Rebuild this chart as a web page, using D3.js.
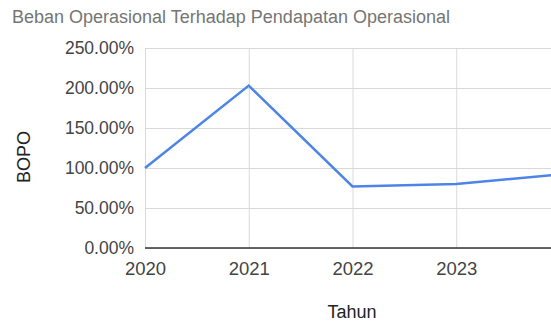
<!DOCTYPE html>
<html><head><meta charset="utf-8">
<script src="https://cdn.jsdelivr.net/npm/d3@7"></script>
<style>body{margin:0;background:#fff;overflow:hidden}svg{display:block;font-family:"Liberation Sans",Arial,sans-serif}</style>
</head><body>
<script>
const years = [2020, 2021, 2022, 2023, 2024];
const bopo = [100.0, 203.0, 77.0, 80.0, 92.0];
const yTicks = [0, 50, 100, 150, 200, 250];
const xTicks = [2020, 2021, 2022, 2023];
const title = "Beban Operasional Terhadap Pendapatan Operasional";
const xTitle = "Tahun", yTitle = "BOPO";

const W = 551, H = 325;
const FF = "Liberation Sans, Arial, sans-serif";
const svg = d3.select("body").append("svg").attr("width", W).attr("height", H);
const x = d3.scaleLinear().domain([2020, 2024]).range([145, 560]);
const y = d3.scaleLinear().domain([0, 250]).range([248, 48]);

svg.append("text").attr("x", 12).attr("y", 23).attr("fill", "#757575")
  .attr("font-size", 18).text(title);

const yAxis = d3.axisLeft(y).tickValues(yTicks).tickSize(-(W - 145))
  .tickFormat(d => d.toFixed(2) + "%");
const gy = svg.append("g").attr("transform", "translate(145,0)").call(yAxis);
gy.select(".domain").remove();
gy.selectAll(".tick line").attr("stroke", "#d9d9d9");
gy.selectAll(".tick text").attr("x", -11).attr("dy", "0.33em").attr("fill", "#444")
  .attr("font-size", 17.5).attr("font-family", FF);

const xAxis = d3.axisBottom(x).tickValues(xTicks).tickSize(-(248 - 48)).tickFormat(d3.format("d"));
const gx = svg.append("g").attr("transform", "translate(0,248)").call(xAxis);
gx.select(".domain").remove();
gx.selectAll(".tick line").attr("stroke", "#d9d9d9");
gx.selectAll(".tick text").attr("y", 27).attr("dy", "0").attr("fill", "#444")
  .attr("font-size", 18.5).attr("font-family", FF);

svg.append("line").attr("x1", 145).attr("x2", W).attr("y1", y(0)).attr("y2", y(0))
  .attr("stroke", "#333").attr("stroke-width", 1.5);

const line = d3.line().x((d, i) => x(years[i])).y(d => y(d));
svg.append("path").datum(bopo).attr("d", line).attr("fill", "none")
  .attr("stroke", "#4d84e8").attr("stroke-width", 2.5);

svg.append("text").attr("x", 352).attr("y", 318).attr("text-anchor", "middle")
  .attr("fill", "#222").attr("font-size", 18).text(xTitle);
svg.append("text").attr("transform", "translate(30,157) rotate(-90)").attr("text-anchor", "middle")
  .attr("fill", "#222").attr("font-size", 18).text(yTitle);
</script>
</body></html>
